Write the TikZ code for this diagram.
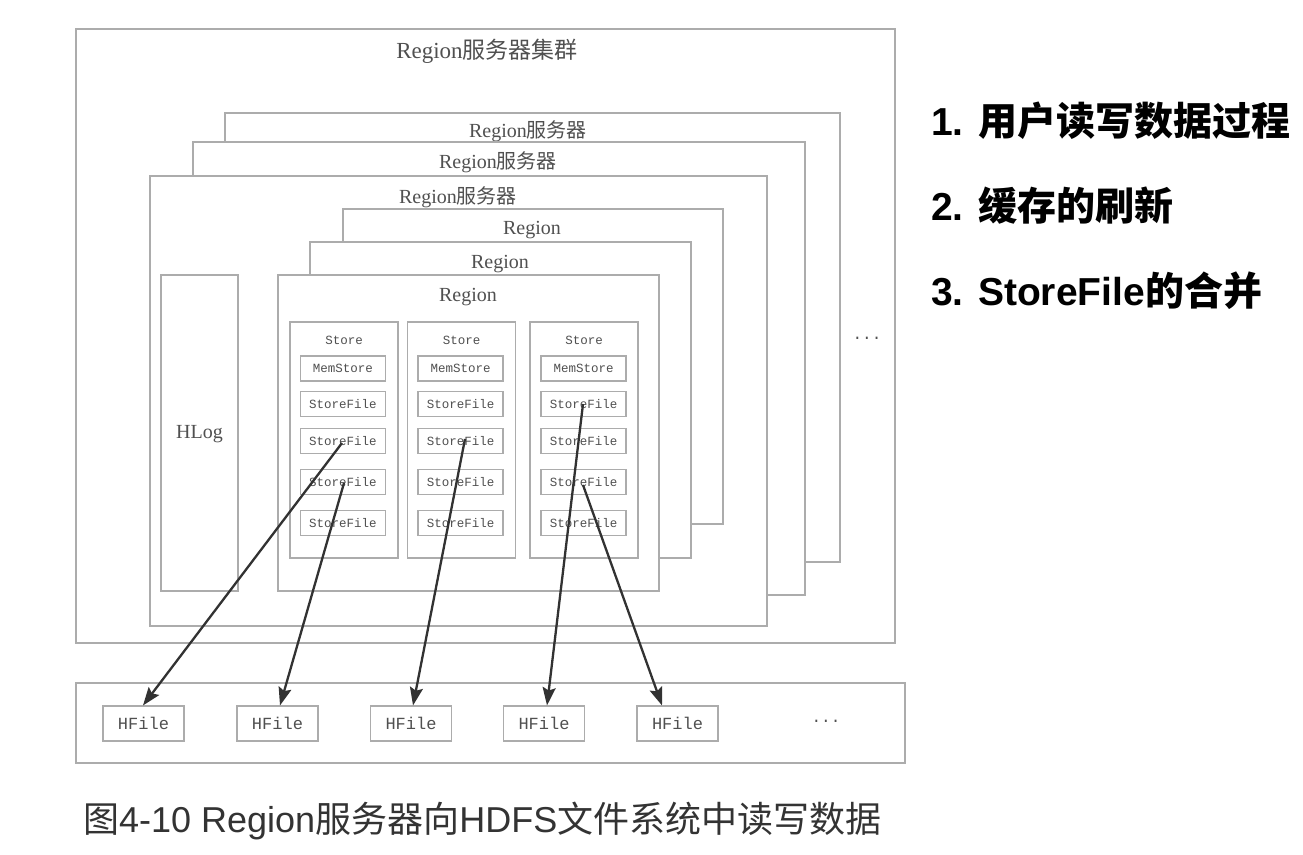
\documentclass[tikz,border=0pt]{standalone}
\usepackage{fontspec}
\setmainfont{Liberation Sans}
\newfontfamily\cjk{Noto Sans CJK SC}
\newfontfamily\mono{Liberation Mono}
\newfontfamily\serif{Liberation Serif}
\usetikzlibrary{arrows.meta}
\definecolor{boxline}{RGB}{172,172,172}
\definecolor{boxtext}{RGB}{80,80,80}
\definecolor{arrowc}{RGB}{50,50,50}
\tikzset{
  frame/.style={draw=boxline, line width=1.1pt, fill=white, inner sep=0pt},
  lbl/.style={text=boxtext, inner sep=0pt},
  big/.style={lbl, font=\serif\fontsize{20}{20}\selectfont},
  small/.style={lbl, font=\mono\fontsize{12.5}{12.5}\selectfont},
  hf/.style={frame, minimum width=81pt, minimum height=35pt, text=boxtext, font=\mono\fontsize{17}{17}\selectfont},
  inner/.style={frame, minimum width=85pt, minimum height=25pt, text=boxtext, font=\mono\fontsize{12.5}{12.5}\selectfont},
  storebox/.style={frame, minimum width=108pt, minimum height=236pt},
  conn/.style={draw=arrowc, line width=2.3pt, -{Stealth[length=18pt,width=13pt,inset=3pt]}},
  side/.style={anchor=west, inner sep=0pt, font=\bfseries\fontsize{39}{39}\selectfont},
}
\begin{document}
\begin{tikzpicture}[x=1pt,y=-1pt]
\useasboundingbox (0,0) rectangle (1303,854);
% cluster
\node[frame, minimum width=819pt, minimum height=614pt] (cluster) at (485.5,336) {};
\node[lbl, font=\serif\fontsize{23}{23}\selectfont] (clusterlbl) at (487,51) {Region{\cjk 服务器集群}};
% servers
\node[frame, minimum width=615pt, minimum height=449pt] (srv1) at (532.5,337.5) {};
\node[big] (srv1lbl) at (528,131) {Region{\cjk 服务器}};
\node[frame, minimum width=612pt, minimum height=453pt] (srv2) at (499,368.5) {};
\node[big] (srv2lbl) at (498,162) {Region{\cjk 服务器}};
\node[frame, minimum width=617pt, minimum height=450pt] (srv3) at (458.5,401) {};
\node[big] (srv3lbl) at (458,197) {Region{\cjk 服务器}};
% regions
\node[frame, minimum width=380pt, minimum height=315pt] (reg1) at (533,366.5) {};
\node[big] (reg1lbl) at (532,230) {Region};
\node[frame, minimum width=381pt, minimum height=316pt] (reg2) at (500.5,400) {};
\node[big] (reg2lbl) at (500,264) {Region};
\node[frame, minimum width=381pt, minimum height=316pt] (reg3) at (468.5,433) {};
\node[big] (reg3lbl) at (468,297) {Region};
% HLog
\node[frame, minimum width=77pt, minimum height=316pt] (hlog) at (199.5,433) {};
\node[big] (hloglbl) at (199.5,434) {HLog};
% stores
\foreach \i/\cx/\ix in {1/344/343, 2/461.5/460.5, 3/584/583.5} {
  \node[storebox] (st\i) at (\cx,440) {};
  \node[small] (st\i lbl) at (\cx,340) {Store};
  \node[inner] (ms\i) at (\ix,368.5) {MemStore};
  \node[inner] (sfa\i) at (\ix,404) {StoreFile};
  \node[inner] (sfb\i) at (\ix,441) {StoreFile};
  \node[inner] (sfc\i) at (\ix,482) {StoreFile};
  \node[inner] (sfd\i) at (\ix,523) {StoreFile};
}
\node[lbl, font=\mono\fontsize{16}{16}\selectfont] (dots1) at (867,340) {\raisebox{0.3ex}{...}};
% HDFS
\node[frame, minimum width=829pt, minimum height=80pt] (hdfs) at (490.5,723) {};
\node[hf] (hf1) at (143.5,723.5) {HFile};
\node[hf] (hf2) at (277.5,723.5) {HFile};
\node[hf] (hf3) at (411,723.5) {HFile};
\node[hf] (hf4) at (544,723.5) {HFile};
\node[hf] (hf5) at (677.5,723.5) {HFile};
\node[lbl, font=\mono\fontsize{16}{16}\selectfont] (dots2) at (826,721) {...};
% connectors
\coordinate (a1) at (342,443);
\coordinate (a2) at (344,483);
\coordinate (a3) at (465,439);
\coordinate (a4) at (583,404);
\coordinate (a5) at (583,485);
\draw[conn] (a1) -- (hf1.north -| 143,0);
\draw[conn] (a2) -- (hf2.north -| 280,0);
\draw[conn] (a3) -- (hf3.north -| 413,0);
\draw[conn] (a4) -- (hf4.north -| 547,0);
\draw[conn] (a5) -- (hf5.north -| 662,0);
% right text
\node[side] (t1) at (931,121) {1. {\cjk\bfseries 用户读写数据过程}};
\node[side] (t2) at (931,206) {2. {\cjk\bfseries 缓存的刷新}};
\node[side] (t3) at (931,291) {3. StoreFile{\cjk\bfseries 的合并}};
% caption
\node[anchor=west, inner sep=0pt, text=black!80, font=\fontsize{36}{36}\selectfont] (cap) at (83,821) {{\cjk 图}4-10 Region{\cjk 服务器向}HDFS{\cjk 文件系统中读写数据}};
\end{tikzpicture}
\end{document}
